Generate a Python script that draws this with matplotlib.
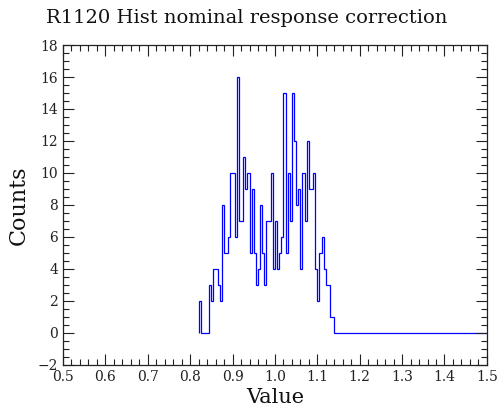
import numpy as np
import matplotlib
matplotlib.use('Agg')
import matplotlib.pyplot as plt
from matplotlib.ticker import MultipleLocator

# histogram of the nominal response correction, 0.005 wide bins from 0.82
bin_start = 0.82
bin_width = 0.005
hist_end = 1.5
counts = [2, 0, 0, 0, 0, 3, 2, 4, 4, 3, 2, 8, 5, 5, 6, 10, 10, 6, 16, 7,
          7, 11, 9, 10, 5, 9, 5, 3, 4, 8, 5, 3, 7, 7, 10, 4, 7, 4, 5, 6,
          15, 5, 10, 7, 15, 12, 8, 9, 4, 10, 7, 12, 9, 9, 10, 4, 2, 5, 6, 4,
          3, 3, 1, 1]

title = 'R1120 Hist nominal response correction'
xlabel = 'Value'
ylabel = 'Counts'

n_bins = int(round((hist_end - bin_start) / bin_width))
values = np.zeros(n_bins)
values[:len(counts)] = counts
edges = bin_start + bin_width * np.arange(n_bins + 1)

fig = plt.figure(figsize=(5.04, 4.11), dpi=100)
ax = fig.add_axes([0.125, 0.112, 0.841, 0.7785])

ax.stairs(values, edges, baseline=0, color='#0000ff', linewidth=0.9)

ax.set_xlim(0.5, 1.5)
ax.set_ylim(-2, 18)
ax.xaxis.set_major_locator(MultipleLocator(0.1))
ax.xaxis.set_minor_locator(MultipleLocator(0.02))
ax.yaxis.set_major_locator(MultipleLocator(2))
ax.yaxis.set_minor_locator(MultipleLocator(0.5))
ax.tick_params(which='both', direction='in', top=True, right=True,
               labelsize=10, width=0.8, colors='#222222', labelcolor='#222222')
ax.tick_params(which='major', length=8)
ax.tick_params(which='minor', length=4)
for lbl in ax.get_xticklabels() + ax.get_yticklabels():
    lbl.set_family('DejaVu Serif')
for sp in ax.spines.values():
    sp.set_linewidth(0.9)
    sp.set_color('#222222')

fig.text(0.49, 0.955, title, fontsize=14, family='DejaVu Serif',
         ha='center', va='center', color='#111111')
ax.set_xlabel(xlabel, fontsize=15, family='DejaVu Serif', labelpad=3, color='#111111')
ax.set_ylabel(ylabel, fontsize=16, family='DejaVu Serif', labelpad=6, color='#111111')

fig.savefig('out.png', dpi=100)
